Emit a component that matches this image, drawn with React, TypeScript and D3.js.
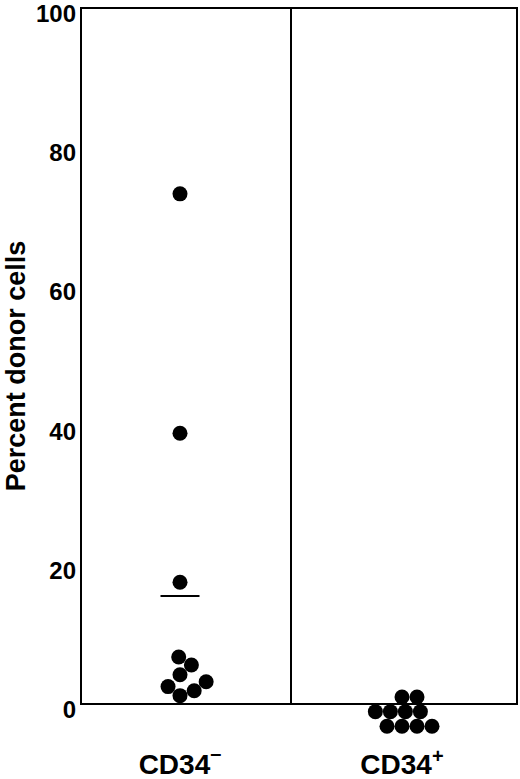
import React, { useEffect, useRef } from 'react';
import * as d3 from 'd3';

// groups and their values (percent donor cells)
const categories = ['CD34-', 'CD34+'];
const cd34NegValues = [73.3, 38.9, 17.5, 6.75, 5.6, 4.2, 3.2, 2.5, 1.9, 1.2];
const cd34PosValues = [1.0, 1.0, -1.1, -1.1, -1.1, -1.1, -3.2, -3.2, -3.2, -3.2];
const yTicks = [0, 20, 40, 60, 80, 100];
const yLabel = 'Percent donor cells';

const W = 520;
const H = 779;
const R = 7.5;

// simple beeswarm: place each point as close to the centre as it can go
function dodge(ys: number[], r: number): number[] {
  const d = 2 * r;
  const placed: { x: number; y: number }[] = [];
  return ys.map(y => {
    const cands = [0];
    placed.forEach(p => {
      const dy = Math.abs(p.y - y);
      if (dy < d) {
        const dx = Math.sqrt(d * d - dy * dy);
        cands.push(p.x - dx, p.x + dx);
      }
    });
    const ok = cands.filter(c =>
      placed.every(p => Math.hypot(p.x - c, p.y - y) >= d - 1e-6)
    );
    ok.sort((a, b) => Math.abs(a) - Math.abs(b) || b - a);
    const x = ok[0];
    placed.push({ x, y });
    return x;
  });
}

const App: React.FC = () => {
  const svgRef = useRef<SVGSVGElement | null>(null);

  useEffect(() => {
    const svg = d3.select(svgRef.current);
    svg.selectAll('*').remove();

    const frame = { left: 81, right: 517, top: 8, bottom: 704 };
    const font = '"Liberation Sans", Arial, Helvetica, sans-serif';

    const y = d3.scaleLinear().domain([0, 100]).range([frame.bottom, frame.top]);
    const x = d3.scaleLinear().domain([0, 1]).range([180, 402]);

    // frame and divider
    svg
      .append('rect')
      .attr('x', frame.left)
      .attr('y', frame.top)
      .attr('width', frame.right - frame.left)
      .attr('height', frame.bottom - frame.top)
      .attr('fill', 'none')
      .attr('stroke', '#000')
      .attr('stroke-width', 2);

    svg
      .append('line')
      .attr('x1', x(0.5))
      .attr('x2', x(0.5))
      .attr('y1', frame.top)
      .attr('y2', frame.bottom)
      .attr('stroke', '#000')
      .attr('stroke-width', 2);

    // y tick labels (no tick marks in the original)
    svg
      .append('g')
      .selectAll('text')
      .data(yTicks)
      .join('text')
      .attr('x', frame.left - 5)
      .attr('y', d => y(d) + 14)
      .attr('text-anchor', 'end')
      .attr('font-family', font)
      .attr('font-weight', 'bold')
      .attr('font-size', 24)
      .text(d => d);

    svg
      .append('text')
      .attr('transform', `translate(24.5,${(frame.top + frame.bottom) / 2 + 10}) rotate(-90)`)
      .attr('text-anchor', 'middle')
      .attr('font-family', font)
      .attr('font-weight', 'bold')
      .attr('font-size', 27)
      .text(yLabel);

    const groups = [cd34NegValues, cd34PosValues];

    groups.forEach((vals, gi) => {
      const sorted = [...vals].sort((a, b) => a - b);
      const ys = sorted.map(v => y(v));
      const xs = dodge(ys, R);

      if (gi === 0) {
        const m = d3.mean(vals) as number;
        svg
          .append('line')
          .attr('x1', x(gi) - 19.5)
          .attr('x2', x(gi) + 19.5)
          .attr('y1', y(m))
          .attr('y2', y(m))
          .attr('stroke', '#000')
          .attr('stroke-width', 2);
      }

      svg
        .append('g')
        .selectAll('circle')
        .data(sorted)
        .join('circle')
        .attr('cx', (_, i) => x(gi) + xs[i])
        .attr('cy', (_, i) => ys[i])
        .attr('r', R)
        .attr('fill', '#000');
    });

    // category labels with superscript sign
    const lab = svg
      .append('g')
      .selectAll('text')
      .data(categories)
      .join('text')
      .attr('x', (_, i) => x(i))
      .attr('y', 774)
      .attr('text-anchor', 'middle')
      .attr('font-family', font)
      .attr('font-weight', 'bold')
      .attr('font-size', 28);
    lab.append('tspan').text(d => d.slice(0, -1));
    lab
      .append('tspan')
      .attr('font-size', 20)
      .attr('dy', d => (d.endsWith('+') ? -11 : -14))
      .text(d => (d.endsWith('+') ? '+' : '\u2013'));
  }, []);

  return (
    <svg
      ref={svgRef}
      width={W}
      height={H}
      style={{ position: 'absolute', left: 0, top: 0, background: '#fff' }}
    />
  );
};

export default App;
